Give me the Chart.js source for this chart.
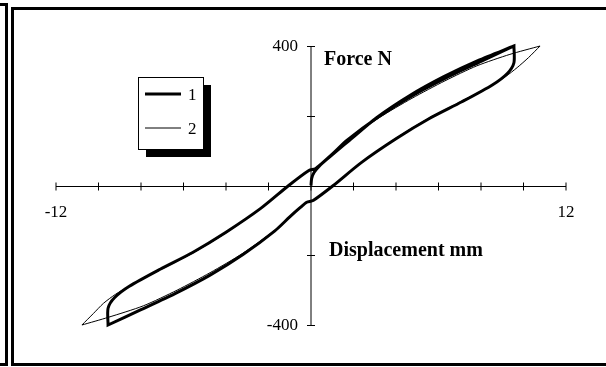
<!DOCTYPE html>
<html>
<head>
<meta charset="utf-8">
<script src="https://cdn.jsdelivr.net/npm/chart.js@4.4.0/dist/chart.umd.min.js"></script>
<style>
  html, body { margin: 0; padding: 0; background: #fff; }
  #wrap { position: relative; width: 606px; height: 367px; overflow: hidden; }
  .bar { position: absolute; background: #000; }
  #frame { position: absolute; left: 11px; top: 7px; width: 620px; height: 359px; border: 3px solid #000; box-sizing: border-box; }
  canvas { position: absolute; left: 0; top: 0; }
</style>
</head>
<body>
<div id="wrap">
  <div class="bar" style="left:0;top:3px;width:8px;height:3px"></div>
  <div class="bar" style="left:5px;top:3px;width:3px;height:363px"></div>
  <div class="bar" style="left:0;top:363px;width:8px;height:3px"></div>
  <div id="frame"></div>
  <canvas id="chart" width="606" height="367"></canvas>
</div>
<script>
// axis labels that are printed (ticks every 2 mm / 200 N, only the ends labelled)
const xLabels = [-12, 12];
const yLabels = [-400, 400];
const seriesNames = ['1', '2'];

// series 1: virgin curve from origin, then one full loop (thick line)
// corner points are listed twice so the smoothing keeps them sharp
const disp1 = [0, 0.03, 0.15, 0.4, 0.8, 1.3, 1.8, 3.1, 4.65, 6.25, 7.85, 9.55, 9.55,
  9.55, 9.25, 8.55, 7.1, 5.57, 4.0, 2.35, 1.05, 0.1, -0.2, -0.5, -1.0, -1.7, -3.2, -4.75, -6.4, -8.0, -9.55, -9.55,
  -9.55, -9.25, -8.55, -7.1, -5.57, -4.0, -2.35, -1.05, -0.1, 0.2, 0.5, 1.0, 1.7, 3.2, 4.75, 6.4, 8.0, 9.55];
const force1 = [0, 20, 38, 56, 78, 104, 129, 195, 258, 312, 358, 400, 400,
  352, 322, 289, 240, 192, 134, 65, 0, -43, -48, -63, -90, -130, -198, -257, -310, -356, -400, -400,
  -352, -322, -289, -240, -192, -134, -65, 0, 43, 48, 63, 90, 130, 198, 257, 310, 356, 400];

// series 2: loop with pointed ends (thin line)
const disp2 = [-10.78, -10.24, -9.77, -9.2, -8.52, -7.1, -5.57, -4.0, -2.35, -1.05, -0.1, 0.2, 0.5, 1.0, 1.7, 3.2, 4.75, 6.3, 7.8, 9.36, 10.78, 10.78,
  10.24, 9.7, 9.15, 8.55, 7.1, 5.57, 4.0, 2.35, 1.05, 0.1, -0.2, -0.5, -1.0, -1.7, -3.2, -4.75, -6.3, -7.89, -9.54, -10.78];
const force2 = [-400, -367, -338, -312, -288, -242, -194, -136, -66, 0, 43, 48, 63, 90, 128, 194, 250, 300, 343, 376, 400, 400,
  367, 338, 312, 289, 242, 194, 136, 66, 0, -43, -48, -63, -90, -128, -194, -250, -300, -345, -378, -400];

const serif = '"Liberation Serif", "Times New Roman", serif';

const toPoints = (xs, ys) => xs.map((x, i) => ({ x, y: ys[i] }));

// axes through the origin with ticks crossing the line, titles and a boxed legend
const decor = {
    id: 'decor',
    beforeDatasetsDraw(chart) {
        const { ctx, chartArea, scales: { x, y } } = chart;
        const x0 = x.getPixelForValue(0);
        const y0 = Math.round(y.getPixelForValue(0)) + 0.5;
        ctx.save();
        ctx.strokeStyle = '#000';
        ctx.lineWidth = 1;
        ctx.beginPath();
        ctx.moveTo(chartArea.left, y0);
        ctx.lineTo(chartArea.right, y0);
        ctx.moveTo(x0, chartArea.top);
        ctx.lineTo(x0, chartArea.bottom);
        x.ticks.forEach(t => {
            const px = x.getPixelForValue(t.value);
            ctx.moveTo(px, y0 - 4);
            ctx.lineTo(px, y0 + 4);
        });
        y.ticks.forEach(t => {
            const py = Math.round(y.getPixelForValue(t.value)) + 0.5;
            ctx.moveTo(x0 - 4, py);
            ctx.lineTo(x0 + 4, py);
        });
        ctx.stroke();

        // the y labels sit left of the centred axis (tick padding is ignored there)
        ctx.fillStyle = '#000';
        ctx.font = '17px ' + serif;
        ctx.textAlign = 'right';
        ctx.textBaseline = 'middle';
        yLabels.forEach(v => ctx.fillText(String(v), x0 - 13, y.getPixelForValue(v) + 1));
        ctx.restore();
    },
    afterDraw(chart) {
        const { ctx } = chart;
        ctx.save();
        ctx.fillStyle = '#000';
        ctx.font = 'bold 20px ' + serif;
        ctx.textBaseline = 'alphabetic';
        ctx.fillText('Force N', 324, 65);
        ctx.fillText('Displacement mm', 329, 256);

        // legend box with drop shadow
        const lx = 138, ly = 77, lw = 65, lh = 72;
        ctx.fillRect(lx + 8, ly + 8, lw, lh);
        ctx.fillStyle = '#fff';
        ctx.fillRect(lx, ly, lw, lh);
        ctx.strokeStyle = '#000';
        ctx.lineWidth = 1;
        ctx.strokeRect(lx + 0.5, ly + 0.5, lw, lh);
        ctx.font = '17px ' + serif;
        ctx.textBaseline = 'middle';
        ctx.fillStyle = '#000';
        chart.data.datasets.forEach((ds, i) => {
            const yy = [94, 128][i];
            ctx.beginPath();
            ctx.lineWidth = ds.borderWidth;
            ctx.moveTo(145, yy);
            ctx.lineTo(181, yy);
            ctx.stroke();
            ctx.fillText(ds.label, 188, yy + 2);
        });
        ctx.restore();
    }
};

new Chart(document.getElementById('chart'), {
    type: 'scatter',
    data: {
        datasets: [
            {
                label: seriesNames[0],
                data: toPoints(disp1, force1),
                showLine: true,
                borderColor: '#000',
                borderWidth: 3,
                pointRadius: 0,
                tension: 0.25,
                clip: false,
                order: 1,
            },
            {
                label: seriesNames[1],
                data: toPoints(disp2, force2),
                showLine: true,
                borderColor: '#000',
                borderWidth: 1,
                pointRadius: 0,
                tension: 0.25,
                clip: false,
                order: 2,
            },
        ],
    },
    options: {
        responsive: false,
        animation: false,
        layout: { padding: { left: 56, right: 40, top: 46, bottom: 42 } },
        plugins: {
            legend: { display: false },
            tooltip: { enabled: false },
        },
        scales: {
            x: {
                type: 'linear',
                min: -12,
                max: 12,
                position: { y: 0 },
                grid: { display: false },
                border: { display: false },
                ticks: {
                    stepSize: 2,
                    autoSkip: false,
                    maxRotation: 0,
                    padding: 9,
                    color: '#000',
                    font: { family: serif, size: 17 },
                    callback: v => xLabels.includes(v) ? String(v) : '',
                },
            },
            y: {
                type: 'linear',
                min: -400,
                max: 400,
                position: { x: 0 },
                grid: { display: false },
                border: { display: false },
                ticks: {
                    stepSize: 200,
                    autoSkip: false,
                    display: false,
                },
            },
        },
    },
    plugins: [decor],
});
</script>
</body>
</html>
